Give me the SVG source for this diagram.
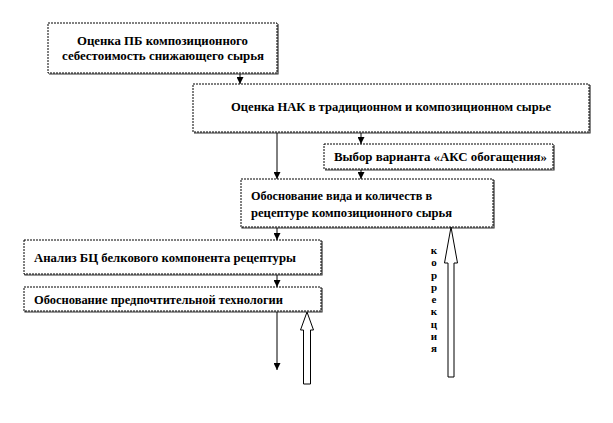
<svg xmlns="http://www.w3.org/2000/svg" width="613" height="423" viewBox="0 0 613 423">
<defs>
<style>
.box{fill:#fff;stroke:#000;stroke-width:1;stroke-dasharray:2 1}
.sh{fill:none;stroke:#333;stroke-width:1.2}
.t{font-family:"Liberation Serif","Times New Roman",serif;font-weight:bold;font-size:12px;fill:#000}
.v{font-family:"Liberation Serif","Times New Roman",serif;font-weight:bold;font-size:11px;fill:#000;text-anchor:middle}
.ln{stroke:#000;stroke-width:1;fill:none}
.ha{fill:#fff;stroke:#000;stroke-width:1}
</style>
<marker id="ah" markerUnits="userSpaceOnUse" markerWidth="7" markerHeight="7" refX="6" refY="3" orient="auto" viewBox="0 0 6 6">
<path d="M0,0 L6,3 L0,6 z" fill="#000"/>
</marker>
</defs>
<rect width="613" height="423" fill="#fff"/>

<g id="node1">
<path class="sh" d="M278,24 V74 H49"/>
<rect class="box" x="48" y="23" width="229" height="50"/>
<text class="t" x="77" y="45" textLength="171" lengthAdjust="spacingAndGlyphs">Оценка ПБ композиционного</text>
<text class="t" x="62" y="60" textLength="202" lengthAdjust="spacingAndGlyphs">себестоимость снижающего сырья</text>
</g>

<g id="node2">
<path class="sh" d="M590,85 V133 H194"/>
<rect class="box" x="193" y="84" width="396" height="48"/>
<text class="t" x="231" y="111" textLength="320" lengthAdjust="spacingAndGlyphs">Оценка НАК в традиционном и композиционном сырье</text>
</g>

<g id="node3">
<path class="sh" d="M554,145 V170 H325"/>
<rect class="box" x="324" y="144" width="229" height="25"/>
<text class="t" x="334" y="161" textLength="213" lengthAdjust="spacingAndGlyphs">Выбор варианта «АКС обогащения»</text>
</g>

<g id="node4">
<path class="sh" d="M494,180 V228 H242 V180"/>
<rect class="box" x="241" y="179" width="252" height="48"/>
<text class="t" x="251" y="200" textLength="181" lengthAdjust="spacingAndGlyphs">Обоснование вида и количеств в</text>
<text class="t" x="251" y="217" textLength="201" lengthAdjust="spacingAndGlyphs">рецептуре композиционного сырья</text>
</g>

<g id="node5">
<path class="sh" d="M322,241 V275 H25 V241"/>
<rect class="box" x="24" y="240" width="297" height="34"/>
<text class="t" x="34" y="262" textLength="262" lengthAdjust="spacingAndGlyphs">Анализ БЦ белкового компонента рецептуры</text>
</g>

<g id="node6">
<path class="sh" d="M322,288 V312 H25 V288"/>
<rect class="box" x="24" y="287" width="297" height="24"/>
<text class="t" x="34" y="304" textLength="249" lengthAdjust="spacingAndGlyphs">Обоснование предпочтительной технологии</text>
</g>

<g id="connectors">
<line class="ln" x1="240" y1="74" x2="240" y2="84" marker-end="url(#ah)"/>
<line class="ln" x1="361" y1="133" x2="361" y2="144" marker-end="url(#ah)"/>
<line class="ln" x1="277" y1="133" x2="277" y2="179" marker-end="url(#ah)"/>
<line class="ln" x1="361" y1="170" x2="361" y2="179" marker-end="url(#ah)"/>
<line class="ln" x1="277" y1="228" x2="277" y2="240" marker-end="url(#ah)"/>
<line class="ln" x1="277" y1="275" x2="277" y2="287" marker-end="url(#ah)"/>
<line class="ln" x1="277" y1="312" x2="277" y2="370" marker-end="url(#ah)"/>
<path class="ha" d="M307,312 L313.5,330 L310.5,330 L310.5,384 L303.5,384 L303.5,330 L300.5,330 Z"/>
<path class="ha" d="M451,227 L457.5,263 L454,263 L454,377 L448,377 L448,263 L444.5,263 Z"/>
</g>

<g id="label-korrekciya">
<text class="v" x="434" y="254">к</text>
<text class="v" x="434" y="266">о</text>
<text class="v" x="434" y="279">р</text>
<text class="v" x="434" y="291">р</text>
<text class="v" x="434" y="303">е</text>
<text class="v" x="434" y="315">к</text>
<text class="v" x="434" y="328">ц</text>
<text class="v" x="434" y="340">и</text>
<text class="v" x="434" y="352">я</text>
</g>
</svg>
